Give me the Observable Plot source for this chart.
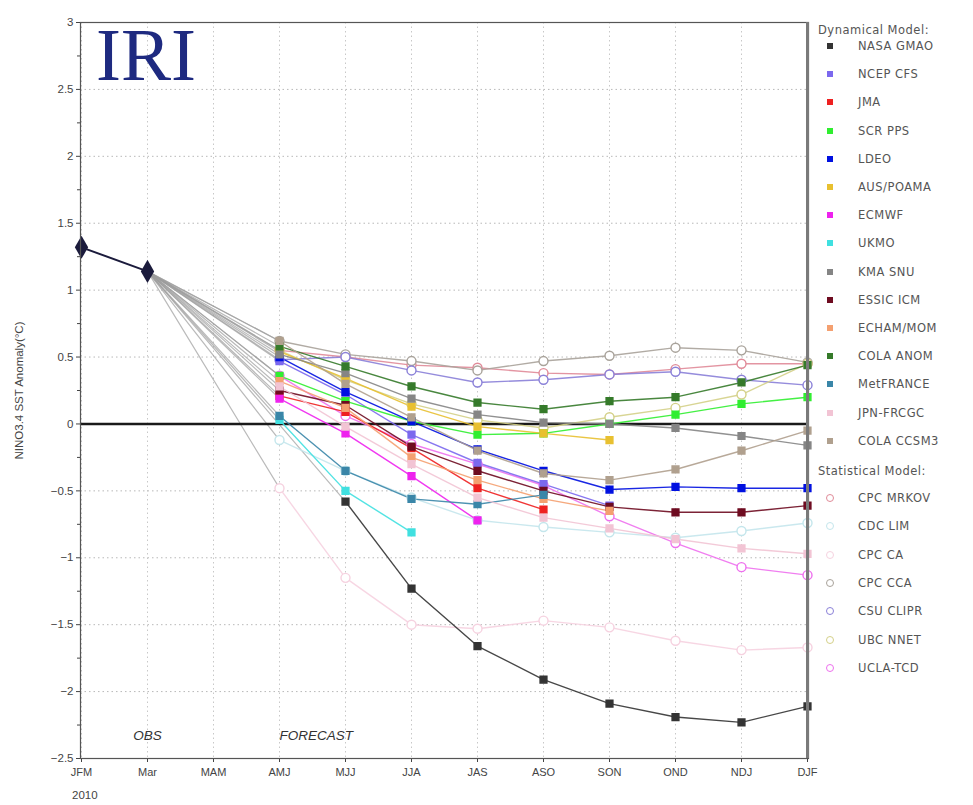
<!DOCTYPE html>
<html>
<head>
<meta charset="utf-8">
<script src="https://cdn.jsdelivr.net/npm/d3@7"></script>
<script src="https://cdn.jsdelivr.net/npm/@observablehq/plot@0.6"></script>
<style>
  body { margin: 0; background: #fff; }
  #wrap { position: relative; width: 973px; height: 805px; background: #fff; font-family: "Liberation Sans", Arial, sans-serif; overflow: hidden; }
  #chart { position: absolute; left: 0; top: 0; }
  .abs { position: absolute; white-space: nowrap; }
  .leg { position: absolute; font-family: "DejaVu Sans", sans-serif; font-size: 11.5px; letter-spacing: 0.5px; color: #555; white-space: nowrap; line-height: 14px; }
</style>
</head>
<body>
<div id="wrap">
  <div id="chart"></div>
</div>
<script>
// ---- categories ----
const months = ["JFM","Mar","MAM","AMJ","MJJ","JJA","JAS","ASO","SON","OND","NDJ","DJF"];
const forecastMonths = ["AMJ","MJJ","JJA","JAS","ASO","SON","OND","NDJ","DJF"];
const obsMonths = ["JFM","Mar"];
const obsValues = [1.32, 1.14];
const yTicks = [-2.5,-2,-1.5,-1,-0.5,0,0.5,1,1.5,2,2.5,3];

// ---- dynamical models (AMJ .. DJF) ----
const nasaGmao  = [null,-0.58,-1.23,-1.66,-1.91,-2.09,-2.19,-2.23,-2.11];
const ncepCfs   = [0.47, 0.22,-0.08,-0.29,-0.45,-0.61, null, null, null];
const jma       = [0.21, 0.09,-0.18,-0.48,-0.64, null, null, null, null];
const scrPps    = [0.36, 0.17, 0.02,-0.08,-0.07, 0.00, 0.07, 0.15, 0.20];
const ldeo      = [0.50, 0.24, 0.02,-0.19,-0.35,-0.49,-0.47,-0.48,-0.48];
const ausPoama  = [0.54, 0.34, 0.13,-0.02,-0.07,-0.12, null, null, null];
const ecmwf     = [0.19,-0.07,-0.39,-0.72, null, null, null, null, null];
const ukmo      = [0.03,-0.50,-0.81, null, null, null, null, null, null];
const kmaSnu    = [0.52, 0.38, 0.19, 0.07, 0.01, 0.00,-0.03,-0.09,-0.16];
const essicIcm  = [0.25, 0.14,-0.17,-0.35,-0.50,-0.62,-0.66,-0.66,-0.61];
const echamNom  = [0.32, 0.12,-0.25,-0.42,-0.56,-0.65, null, null, null];
const colaAnom  = [0.58, 0.43, 0.28, 0.16, 0.11, 0.17, 0.20, 0.31, 0.44];
const metFrance = [0.06,-0.35,-0.56,-0.60,-0.53, null, null, null, null];
const jpnFrcgc  = [0.28,-0.02,-0.30,-0.55,-0.70,-0.78,-0.86,-0.93,-0.97];
const colaCcsm3 = [0.62, 0.30, 0.05,-0.20,-0.37,-0.42,-0.34,-0.20,-0.05];

// ---- statistical models (AMJ .. DJF) ----
const cpcMrkov  = [0.55, 0.50, 0.44, 0.42, 0.38, 0.37, 0.41, 0.45, 0.45];
const cdcLim    = [-0.12,-0.35,-0.55,-0.72,-0.77,-0.81,-0.85,-0.80,-0.74];
const cpcCa     = [-0.48,-1.15,-1.50,-1.53,-1.47,-1.52,-1.62,-1.69,-1.67];
const cpcCca    = [0.62, 0.52, 0.47, 0.40, 0.47, 0.51, 0.57, 0.55, 0.46];
const csuClipr  = [0.48, 0.50, 0.40, 0.31, 0.33, 0.37, 0.39, 0.33, 0.29];
const ubcNnet   = [0.55, 0.33, 0.15, 0.03,-0.03, 0.05, 0.12, 0.22, 0.45];
const uclaTcd   = [0.36, 0.06,-0.15,-0.30,-0.46,-0.69,-0.89,-1.07,-1.13];

// ---- names & colours ----
const dynNames  = ["NASA GMAO","NCEP CFS","JMA","SCR PPS","LDEO","AUS/POAMA","ECMWF","UKMO","KMA SNU","ESSIC ICM","ECHAM/MOM","COLA ANOM","MetFRANCE","JPN-FRCGC","COLA CCSM3"];
const dynSeries = [nasaGmao,ncepCfs,jma,scrPps,ldeo,ausPoama,ecmwf,ukmo,kmaSnu,essicIcm,echamNom,colaAnom,metFrance,jpnFrcgc,colaCcsm3];
const dynColors = ["#333333","#7b68ee","#ee2020","#30ee30","#0010e0","#e8c030","#ee22ee","#40e0e0","#858585","#6e0b20","#f4a070","#357a2a","#3a86a8","#f2c4d4","#b0a08e"];
const statNames  = ["CPC MRKOV","CDC LIM","CPC CA","CPC CCA","CSU CLIPR","UBC NNET","UCLA-TCD"];
const statSeries = [cpcMrkov,cdcLim,cpcCa,cpcCca,csuClipr,ubcNnet,uclaTcd];
const statColors = ["#e08a98","#c4e6ec","#f6d2e0","#a8a29a","#8a80d8","#d4d088","#ee70ee"];

// ---- annotations ----
const obsLabel = {text: "OBS", month: "Mar", value: -2.33};
const fcstLabel = {text: "FORECAST", month: "AMJ", value: -2.33};

// build tables
function toRows(names, series, colors, kind) {
  return names.flatMap((name, k) => series[k].map((v, i) => ({model: name, kind, color: colors[k], month: forecastMonths[i], value: v}))
    .filter(d => d.value != null));
}
const dynRows = toRows(dynNames, dynSeries, dynColors, "dyn");
const statRows = toRows(statNames, statSeries, statColors, "stat");
const allRows = [...statRows, ...dynRows];
const connRows = [...dynNames.map((n,k)=>[n,dynSeries[k]]), ...statNames.map((n,k)=>[n,statSeries[k]])]
  .flatMap(([n, s]) => {
    const i = s.findIndex(v => v != null);
    return [{model: n, month: obsMonths[1], value: obsValues[1]}, {model: n, month: forecastMonths[i], value: s[i]}];
  });
const obsRows = obsMonths.map((m, i) => ({month: m, value: obsValues[i]}));

const chart = Plot.plot({
  width: 820,
  height: 805,
  marginLeft: 80,
  marginRight: 12,
  marginTop: 22,
  marginBottom: 47,
  style: {fontFamily: "'Liberation Sans', Arial, sans-serif", fontSize: "11px", color: "#444", background: "#fff"},
  x: {type: "point", domain: months, padding: 0},
  y: {domain: [-2.5, 3]},
  color: {type: "identity"},
  marks: [
    Plot.gridY(yTicks, {stroke: "#b8b8b8", strokeOpacity: 1, strokeDasharray: "1.5,3"}),
    Plot.gridX(months, {stroke: "#c8c8c8", strokeOpacity: 1, strokeDasharray: "1.5,3"}),
    Plot.axisY(yTicks, {tickSize: 4, tickPadding: 3, tickFormat: d3.format("~g"), label: "NINO3.4 SST Anomaly(°C)", labelAnchor: "center", labelArrow: "none", labelOffset: 66, fontSize: 11.5}),
    Plot.axisY(d3.range(-2.25, 3, 0.5), {tickSize: 3, tickFormat: () => "", label: null}),
    Plot.axisX(months, {tickSize: 4, tickPadding: 6, label: null, fontSize: 11}),
    Plot.line(connRows, {x: "month", y: "value", z: "model", stroke: "#9c9c9c", strokeWidth: 1.2, strokeOpacity: 0.7}),
    Plot.ruleY([0], {stroke: "#1a1a1a", strokeWidth: 2.5}),
    Plot.line(allRows, {x: "month", y: "value", z: "model", stroke: "color", strokeWidth: 1.4, strokeOpacity: 0.9}),
    Plot.dot(statRows, {x: "month", y: "value", stroke: "color", fill: "white", symbol: "circle", r: 4.5, strokeWidth: 1.4}),
    Plot.dot(dynRows, {x: "month", y: "value", fill: "color", stroke: "color", symbol: "square", r: 3.8}),
    Plot.line(obsRows, {x: "month", y: "value", stroke: "#1b1b3c", strokeWidth: 2}),
    Plot.dot(obsRows, {x: "month", y: "value", fill: "#1b1b3c", symbol: "diamond", r: 7}),
    Plot.text([obsLabel], {x: "month", y: "value", text: "text", textAnchor: "middle", fontStyle: "italic", fontSize: 13.5, fill: "#333"}),
    Plot.text([fcstLabel], {x: "month", y: "value", text: "text", textAnchor: "start", fontStyle: "italic", fontSize: 13.5, fill: "#333"}),
    Plot.frame({stroke: "#555", strokeWidth: 1.2}),
    Plot.ruleX(["DJF"], {stroke: "#7a7a7a", strokeWidth: 3})
  ]
});
document.getElementById("chart").appendChild(chart);

const wrap = document.getElementById("wrap");
function addDiv(cls, text, css) {
  const d = document.createElement("div");
  d.className = cls;
  d.textContent = text;
  Object.assign(d.style, css);
  wrap.appendChild(d);
  return d;
}
// IRI logo
addDiv("abs", "IRI", {left: "96px", top: "17px", fontFamily: "'Liberation Serif', 'DejaVu Serif', serif", fontSize: "75px", lineHeight: "75px", color: "#1e2a80"});
// year under first tick
addDiv("abs", "2010", {left: "72px", top: "789px", fontSize: "11.5px", color: "#444"});

// legend
addDiv("leg", "Dynamical Model:", {left: "818px", top: "23px"});
dynNames.forEach((n, i) => {
  const y = 46 + i * 28.2;
  addDiv("leg", "", {left: "827px", top: (y - 3) + "px", width: "6px", height: "6px", background: dynColors[i]});
  addDiv("leg", n, {left: "858px", top: (y - 7) + "px"});
});
addDiv("leg", "Statistical Model:", {left: "818px", top: "464px"});
statNames.forEach((n, i) => {
  const y = 498 + i * 28.3;
  addDiv("leg", "", {left: "826px", top: (y - 4) + "px", width: "6px", height: "6px", border: "1.3px solid " + statColors[i], borderRadius: "50%", background: "#fff"});
  addDiv("leg", n, {left: "858px", top: (y - 7) + "px"});
});
</script>
</body>
</html>
